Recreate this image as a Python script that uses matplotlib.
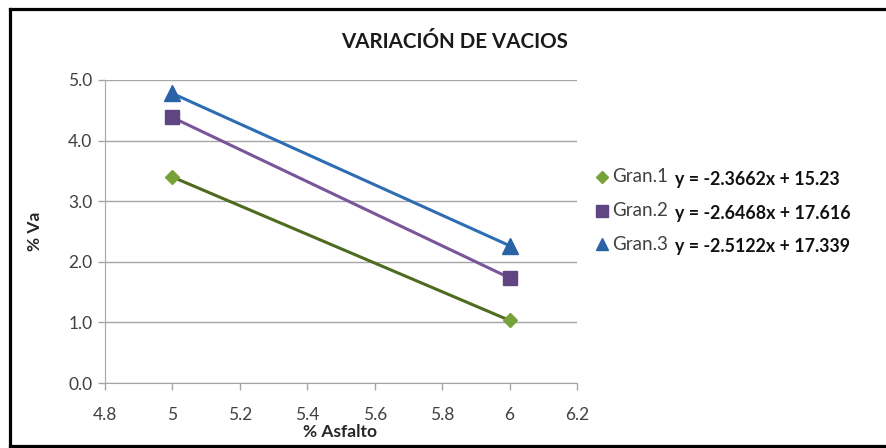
import numpy as np
import matplotlib
matplotlib.use("Agg")
import matplotlib.pyplot as plt
from matplotlib.lines import Line2D

plt.rcParams['font.family'] = ['Lato', 'DejaVu Sans']

# % asfalto vs % vacios for each gradation
asfalto = [5, 6]
gran1 = [3.399, 1.033]
gran2 = [4.382, 1.735]
gran3 = [4.778, 2.266]
series_names = ["Gran.1", "Gran.2", "Gran.3"]
equations = ["y = -2.3662x + 15.23", "y = -2.6468x + 17.616", "y = -2.5122x + 17.339"]

marker_colors = ["#77A23A", "#5F4683", "#2A62A6"]
line_colors = ["#4E6B1F", "#7A5599", "#2F6DB3"]
markers = ["D", "s", "^"]
msizes = [7, 10, 11]

W, H = 887, 448
fig = plt.figure(figsize=(W / 100, H / 100), dpi=100)
ax_l, ax_r, ax_t, ax_b = 105, 577, 80, 383
ax = fig.add_axes([ax_l / W, 1 - ax_b / H, (ax_r - ax_l) / W, (ax_b - ax_t) / H])

for ys, mc, lc, mk, ms in zip([gran1, gran2, gran3], marker_colors, line_colors, markers, msizes):
    # linear trendline through the points
    k, b = np.polyfit(asfalto, ys, 1)
    xs = np.array(asfalto, dtype=float)
    ax.plot(xs, k * xs + b, color=lc, lw=2.2, zorder=2)
    ax.plot(asfalto, ys, linestyle="none", marker=mk, ms=ms, color=mc,
            markeredgecolor=mc, zorder=3)

ax.set_xlim(4.8, 6.2)
ax.set_ylim(0, 5)
ax.set_xticks(np.arange(4.8, 6.21, 0.2))
ax.set_xticklabels(["4.8", "5", "5.2", "5.4", "5.6", "5.8", "6", "6.2"])
ax.set_yticks(np.arange(0, 5.01, 1))
ax.set_yticklabels([f"{v:.1f}" for v in np.arange(0, 5.01, 1)])
ax.grid(axis="y", color="#A6A6A6", lw=1)
ax.set_axisbelow(True)
for s in ["top", "right"]:
    ax.spines[s].set_visible(False)
for s in ["left", "bottom"]:
    ax.spines[s].set_color("#A6A6A6")
ax.tick_params(colors="#A6A6A6", labelcolor="#404040", labelsize=12.5, length=5, width=1)
ax.tick_params(axis="x", pad=12)
ax.tick_params(axis="y", pad=4)

ax.set_xlabel("% Asfalto", fontsize=12.5, fontweight="bold", color="#262626")
ax.xaxis.label.set_va("center")
ax.xaxis.set_label_coords(0.5 + (340 - (ax_l + ax_r) / 2) / (ax_r - ax_l),
                          (ax_b - 432) / (ax_b - ax_t))
ax.set_ylabel("% Va", fontsize=12.5, fontweight="bold", color="#262626")
ax.yaxis.label.set_va("center")
ax.yaxis.set_label_coords((35 - ax_l) / (ax_r - ax_l), 0.5)
fig.text(455 / W, 1 - 42 / H, "VARIACIÓN DE VACIOS", ha="center", va="center",
         fontsize=14.8, fontweight="bold", color="#1A1A1A")

# legend entries with trendline equations
leg_y = [177, 211, 244]
for name, eq, mc, mk, ms, y in zip(series_names, equations, marker_colors, markers, msizes, leg_y):
    fig.add_artist(Line2D([602 / W], [1 - y / H], marker=mk, ms=ms * 0.85, color=mc,
                          linestyle="none", transform=fig.transFigure))
    fig.text(612 / W, 1 - y / H, name, ha="left", va="center", fontsize=13.5, color="#404040")
    fig.text(675 / W, 1 - (y + 2) / H, eq, ha="left", va="center", fontsize=12.8,
             fontweight="bold", color="#111111")

# outer frame (left, top, bottom)
lw = 2.3
fig.add_artist(Line2D([10 / W, 10 / W], [1 - 9.5 / H, 1 - 446 / H], color="black", lw=lw,
                      transform=fig.transFigure, solid_capstyle="projecting"))
fig.add_artist(Line2D([10 / W, 1.0], [1 - 9.5 / H, 1 - 9.5 / H], color="black", lw=lw,
                      transform=fig.transFigure, solid_capstyle="projecting"))
fig.add_artist(Line2D([10 / W, 1.0], [1 - 446 / H, 1 - 446 / H], color="black", lw=lw,
                      transform=fig.transFigure, solid_capstyle="projecting"))

fig.savefig("out.png", dpi=100)
